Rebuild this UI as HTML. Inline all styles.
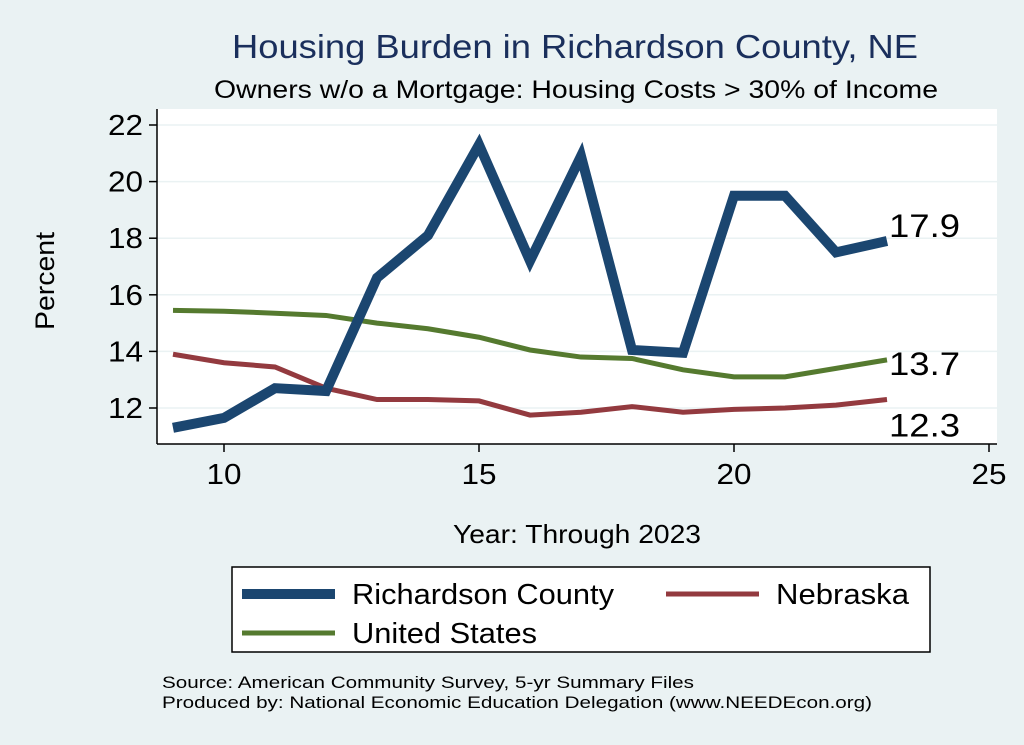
<!DOCTYPE html>
<html><head><meta charset="utf-8"><style>
body{margin:0;background:#EAF2F3;}
svg{display:block;font-family:"Liberation Sans",Arial,sans-serif;}
</style></head><body>
<svg width="1024" height="745">
<rect x="0" y="0" width="1024" height="745" fill="#EAF2F3"/>
<text x="232" y="58" font-size="33" fill="#1a2f5c" textLength="686" lengthAdjust="spacingAndGlyphs">Housing Burden in Richardson County, NE</text>
<text x="214" y="98" font-size="25" fill="#000" textLength="724" lengthAdjust="spacingAndGlyphs">Owners w/o a Mortgage: Housing Costs &gt; 30% of Income</text>
<rect x="157" y="109" width="840" height="335" fill="#fff"/>
<g id="grid"></g>
<g id="axes"></g>
<g id="series"></g>
<text x="54" y="281" font-size="27" text-anchor="middle" textLength="98" lengthAdjust="spacingAndGlyphs" transform="rotate(-90 54 281)">Percent</text>
<text x="453" y="543" font-size="26" textLength="248" lengthAdjust="spacingAndGlyphs">Year: Through 2023</text>
<g>
<rect x="232" y="567" width="698" height="85" fill="#fff" stroke="#000" stroke-width="1.5"/>
<line x1="242" y1="594" x2="335" y2="594" stroke="#1b4670" stroke-width="10"/>
<text x="352" y="604" font-size="29" textLength="262" lengthAdjust="spacingAndGlyphs">Richardson County</text>
<line x1="666" y1="594" x2="759" y2="594" stroke="#933a3f" stroke-width="5"/>
<text x="776" y="604" font-size="29" textLength="133" lengthAdjust="spacingAndGlyphs">Nebraska</text>
<line x1="242" y1="633" x2="335" y2="633" stroke="#557a2f" stroke-width="5"/>
<text x="352" y="643" font-size="29" textLength="185" lengthAdjust="spacingAndGlyphs">United States</text>
</g>
<text x="162" y="688" font-size="17" textLength="532" lengthAdjust="spacingAndGlyphs">Source: American Community Survey, 5-yr Summary Files</text>
<text x="162" y="708" font-size="17" textLength="710" lengthAdjust="spacingAndGlyphs">Produced by: National Economic Education Delegation (www.NEEDEcon.org)</text>
</svg>
<script>
const years=[9,10,11,12,13,14,15,16,17,18,19,20,21,22,23];
const richardson=[11.3,11.65,12.7,12.6,16.6,18.1,21.3,17.2,20.9,14.05,13.95,19.5,19.5,17.5,17.9];
const unitedStates=[15.45,15.42,15.35,15.27,15.0,14.8,14.5,14.05,13.8,13.75,13.35,13.1,13.1,13.4,13.7];
const nebraska=[13.9,13.6,13.45,12.7,12.3,12.3,12.25,11.75,11.85,12.05,11.85,11.95,12.0,12.1,12.3];
const xTicks=[10,15,20,25];
const yTicks=[12,14,16,18,20,22];
const endLabels=["17.9","13.7","12.3"];
const NS="http://www.w3.org/2000/svg";
function xs(v){return 224+(v-10)*51;}
function ys(v){return 408-(v-12)*28.3;}
function mk(t,a,p){const e=document.createElementNS(NS,t);for(const k in a)e.setAttribute(k,a[k]);p.appendChild(e);return e;}
const grid=document.getElementById('grid'),axes=document.getElementById('axes'),ser=document.getElementById('series');
yTicks.forEach(v=>{
 const g=mk('line',{x1:157,x2:997,y1:ys(v),y2:ys(v),stroke:'#EAF2F3','stroke-width':1.5},grid);
 
 
 mk('line',{x1:149,x2:157,y1:ys(v),y2:ys(v),stroke:'#000','stroke-width':1.5},axes);
 const t=mk('text',{x:143,y:ys(v)+10,'font-size':29,'text-anchor':'end',textLength:35,lengthAdjust:'spacingAndGlyphs'},axes);t.textContent=v;
 
 
});
xTicks.forEach(v=>{
 mk('line',{x1:xs(v),x2:xs(v),y1:444,y2:452,stroke:'#000','stroke-width':1.5},axes);
 const t=mk('text',{x:xs(v),y:484,'font-size':29,'text-anchor':'middle',textLength:35,lengthAdjust:'spacingAndGlyphs'},axes);t.textContent=v;
 
 
});
const ya=mk('line',{x1:157,x2:157,y1:109,y2:444,stroke:'#000','stroke-width':1.5},axes);


const xa=mk('line',{x1:157,x2:997,y1:444,y2:444,stroke:'#000','stroke-width':1.5},axes);


function line(vals,color,w,name){
 const p=mk('polyline',{points:years.map((y,i)=>xs(y)+','+ys(vals[i])).join(' '),fill:'none',stroke:color,'stroke-width':w,'stroke-linejoin':'miter'},ser);
 
 
}
line(unitedStates,'#557a2f',5,'line-united-states');
line(nebraska,'#933a3f',5,'line-nebraska');
line(richardson,'#1b4670',10,'line-richardson-county');
const last=years.length-1;
[[richardson,-4],[unitedStates,15],[nebraska,37]].forEach((s,i)=>{
 const t=mk('text',{x:xs(years[last])+2,y:ys(s[0][last])+s[1],'font-size':32,textLength:71,lengthAdjust:'spacingAndGlyphs'},ser);
 t.textContent=endLabels[i];
 
 
});
</script>
</body></html>
